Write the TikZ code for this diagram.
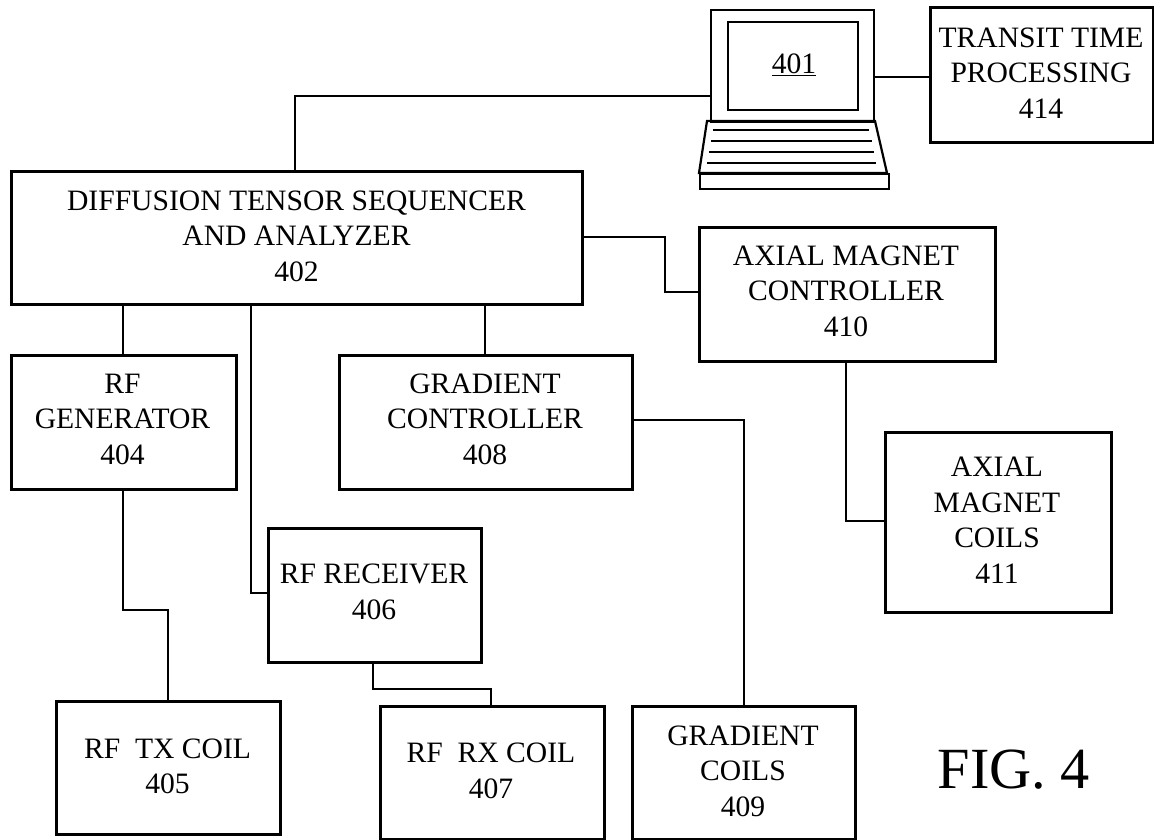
\documentclass[tikz,border=0pt]{standalone}
\usepackage{fontspec}
\setmainfont{Liberation Serif}
\begin{document}
\begin{tikzpicture}[x=1pt,y=-1pt,
  bx/.style={draw,line width=2.8pt,inner sep=0pt,rectangle},
  wire/.style={line width=2.6pt},
  thinw/.style={line width=2.3pt},
  lbl/.style={align=center,font=\fontsize{29.6}{35.5}\selectfont,inner sep=0pt}]
\useasboundingbox (0,0) rectangle (1154,839);
\newcommand{\BX}[5]{\node[bx,minimum width=#4pt-#2pt,minimum height=#5pt-#3pt,anchor=north west] (#1) at (#2,#3) {};}
\BX{n414}{929}{6}{1152}{141}
\BX{n402}{10}{170}{581}{303}
\BX{n410}{698}{226}{994}{360}
\BX{n404}{10}{354}{235}{488}
\BX{n408}{338}{354}{631}{488}
\BX{n411}{884}{431}{1110}{611}
\BX{n406}{267}{527}{480}{661}
\BX{n405}{55}{700}{279}{833}
\BX{n407}{379}{705}{603}{838}
\BX{n409}{631}{705}{854}{838}
\node[lbl] (t414) at (1041,73) {TRANSIT TIME\\PROCESSING\\414};
\node[lbl] (t402) at (296.5,236) {DIFFUSION TENSOR SEQUENCER\\AND ANALYZER\\402};
\node[lbl] (t410) at (846,291) {AXIAL MAGNET\\CONTROLLER\\410};
\node[lbl] (t404) at (122.5,419) {RF\\GENERATOR\\404};
\node[lbl] (t408) at (485,419) {GRADIENT\\CONTROLLER\\408};
\node[lbl] (t411) at (997,520) {AXIAL\\MAGNET\\COILS\\411};
\node[lbl] (t406) at (374,592) {RF RECEIVER\\406};
\node[lbl] (t405) at (167.5,766.5) {RF\ \ TX COIL\\405};
\node[lbl] (t407) at (491,771) {RF\ \ RX COIL\\407};
\node[lbl] (t409) at (743,771) {GRADIENT\\COILS\\409};
\node[font=\fontsize{58.3}{66}\selectfont,inner sep=0pt] (fig) at (1014,770) {FIG. 4};
% laptop
\node[draw,line width=2.2pt,minimum width=163pt,minimum height=112pt,inner sep=0pt,anchor=north west] (lid) at (710,9) {};
\node[draw,line width=2.2pt,minimum width=130pt,minimum height=88pt,inner sep=0pt,anchor=north west] (scr) at (727,21) {};
\node[font=\fontsize{29.6}{34}\selectfont,inner sep=0pt] (n401) at (794,65) {\underline{401}};
\draw[line width=2.2pt] (707,121) -- (875,121) -- (887,173) -- (699,173) -- cycle;
\node[draw,line width=2.2pt,minimum width=189pt,minimum height=15pt,inner sep=0pt,anchor=north west] (base) at (699,173) {};
\foreach \y/\a/\b in {130/713/869,141/711/872,152/709/874,163/707/876}
  \draw[line width=1.4pt] (\a,\y) -- (\b,\y);
\coordinate (lidL) at (lid.west|-0,96);
\coordinate (lidR) at (lid.east|-0,77);
% connectors
\draw[wire] (lidL) -- (295,96) -- (n402.north-|295,0);
\draw[wire] (lidR) -- (n414.west|-lidR);
\draw[wire] (n402.east|-0,237) -- (665,237) -- (665,292) -- (n410.west|-0,292);
\draw[wire] (n402.south-|123,0) -- (n404.north-|123,0);
\draw[thinw] (n402.south-|251,0) -- (251,593) -- (n406.west|-0,593);
\draw[wire] (n402.south-|485,0) -- (n408.north-|485,0);
\draw[wire] (n404.south-|123,0) -- (123,610) -- (168,610) -- (n405.north-|168,0);
\draw[wire] (n406.south-|373,0) -- (373,689) -- (491,689) -- (n407.north-|491,0);
\draw[wire] (n408.east|-0,420) -- (744,420) -- (n409.north-|744,0);
\draw[wire] (n410.south-|846,0) -- (846,521) -- (n411.west|-0,521);
\end{tikzpicture}
\end{document}
